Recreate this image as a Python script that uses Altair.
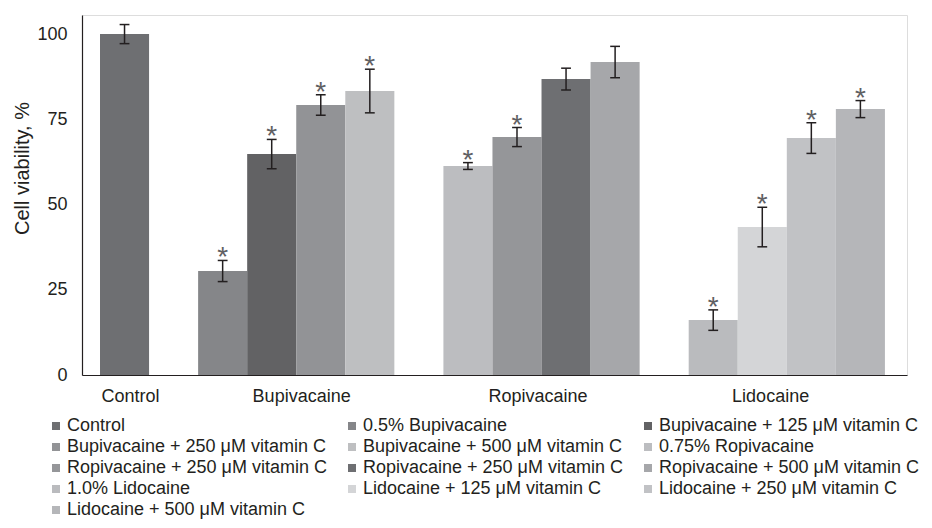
import altair as alt
import pandas as pd

# ---- data ----
groups = ["Control", "Bupivacaine", "Ropivacaine", "Lidocaine"]
group_series = [
    ["Control"],
    ["0.5% Bupivacaine", "Bupivacaine + 125 μM vitamin C",
     "Bupivacaine + 250 μM vitamin C", "Bupivacaine + 500 μM vitamin C"],
    ["0.75% Ropivacaine", "Ropivacaine + 250 μM vitamin C",
     "Ropivacaine + 250 μM vitamin C ", "Ropivacaine + 500 μM vitamin C"],
    ["1.0% Lidocaine", "Lidocaine + 125 μM vitamin C",
     "Lidocaine + 250 μM vitamin C", "Lidocaine + 500 μM vitamin C"],
]
values = [100.0, 30.5, 64.8, 79.2, 83.3, 61.3, 69.8, 86.8, 91.8, 16.1, 43.4, 69.5, 78.0]
errors = [2.8, 3.1, 4.3, 3.0, 6.4, 1.0, 2.8, 3.2, 4.6, 3.0, 5.8, 4.5, 2.5]
significant = [False, True, True, True, True, True, True, False, False, True, True, True, True]
colors = ["#6e6f72", "#858689", "#626264", "#929396", "#bebfc1", "#bcbdc0", "#959699",
          "#6e6f72", "#a6a7aa", "#babbbe", "#d4d5d7", "#c1c2c5", "#b5b6b9"]

# ---- layout (not data) ----
label_nudge = [0.11, 0.10, -0.08, -0.34]   # category label offsets, in bar widths
cap_half = 0.1
FONT = "Liberation Sans"
INK = "#231f20"

rows = []
label_pos = []
slot = 0
k = 0
for g, names in zip(groups, group_series):
    start = slot
    for name in names:
        rows.append(dict(group=g, series=name, slot=slot, slot_end=slot + 1,
                         center=slot + 0.5, value=values[k], lo=values[k] - errors[k],
                         hi=values[k] + errors[k], sig="*" if significant[k] else "",
                         cap_l=slot + 0.5 - cap_half, cap_r=slot + 0.5 + cap_half))
        slot += 1
        k += 1
    label_pos.append(round((start + slot) / 2 + label_nudge[len(label_pos)], 3))
    slot += 1
df = pd.DataFrame(rows)
series_order = [s for names in group_series for s in names]

xscale = alt.Scale(domain=[-0.367, 16.45], nice=False, zero=False)
yscale = alt.Scale(domain=[0, 105.6], nice=False)

label_expr = "[" + ",".join(f"'{g}'" for g in groups) + "][indexof([" + ",".join(
    str(p) for p in label_pos) + "], datum.value)]"
xaxis = alt.Axis(values=label_pos, labelExpr=label_expr, ticks=False, grid=False,
                 title=None, labelFontSize=18, labelFont=FONT, labelColor=INK,
                 labelPadding=12, domainColor=INK, domainWidth=1.2, labelFlush=False,
                 labelOverlap=False)
yaxis = alt.Axis(values=[0, 25, 50, 75, 100], ticks=False, grid=False,
                 title="Cell viability, %", titleFontSize=20, titleFont=FONT,
                 titleFontWeight="normal", titleColor=INK, titleX=-60, titleY=153,
                 titleAngle=-90, titleAlign="center", titleBaseline="middle",
                 labelFontSize=18, labelFont=FONT, labelColor=INK, labelPadding=15,
                 domainColor=INK, domainWidth=1.2)

base = alt.Chart(df)

bars = base.mark_bar(stroke=None).encode(
    x=alt.X("slot:Q", scale=xscale, axis=xaxis),
    x2="slot_end:Q",
    y=alt.Y("value:Q", scale=yscale, axis=yaxis),
    y2=alt.datum(0),
    color=alt.Color("series:N", scale=alt.Scale(domain=series_order, range=colors),
                    sort=series_order,
                    legend=alt.Legend(title=None, orient="none", legendX=-35, legendY=402,
                                      columns=3, direction="horizontal",
                                      symbolType="square", symbolSize=64,
                                      symbolStrokeWidth=0, labelFontSize=18, labelFont=FONT,
                                      labelColor=INK, labelLimit=400, labelOffset=2,
                                      rowPadding=3, columnPadding=16)),
)

err = base.mark_rule(color=INK, strokeWidth=1.5).encode(
    x=alt.X("center:Q", scale=xscale, axis=xaxis),
    y=alt.Y("lo:Q", scale=yscale, axis=yaxis),
    y2="hi:Q",
)
cap_hi = base.mark_rule(color=INK, strokeWidth=1.5).encode(
    x=alt.X("cap_l:Q", scale=xscale, axis=xaxis), x2="cap_r:Q",
    y=alt.Y("hi:Q", scale=yscale, axis=yaxis),
)
cap_lo = base.mark_rule(color=INK, strokeWidth=1.5).encode(
    x=alt.X("cap_l:Q", scale=xscale, axis=xaxis), x2="cap_r:Q",
    y=alt.Y("lo:Q", scale=yscale, axis=yaxis),
)
stars = base.mark_text(font=FONT, fontSize=28, color="#5f6063", baseline="alphabetic",
                       dy=6).encode(
    x=alt.X("center:Q", scale=xscale, axis=xaxis),
    y=alt.Y("hi:Q", scale=yscale, axis=yaxis),
    text="sig:N",
)

chart = alt.layer(bars, err, cap_hi, cap_lo, stars).properties(
    width=825, height=360,
    autosize=alt.AutoSizeParams(type="none"),
    padding={"left": 74, "top": 7, "right": 17, "bottom": 146},
).configure_view(stroke=None).configure(background="white")

chart.save("out.html", embed_options={"renderer": "svg", "actions": False})
